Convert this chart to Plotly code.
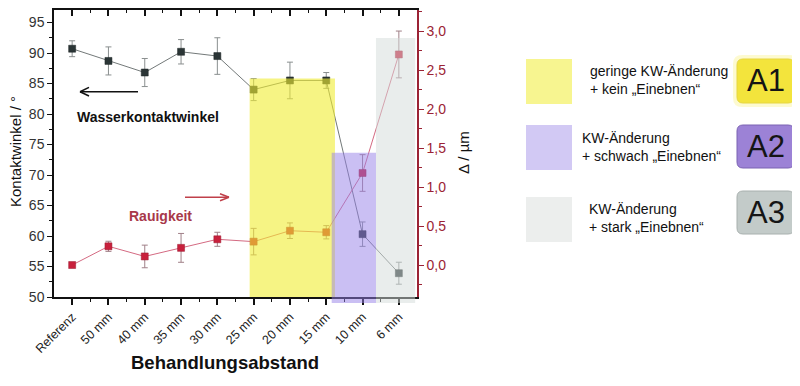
import plotly.graph_objects as go

categories = ["Referenz", "50 mm", "40 mm", "35 mm", "30 mm", "25 mm", "20 mm", "15 mm", "10 mm", "6 mm"]
kontaktwinkel = [90.7, 88.7, 86.8, 90.2, 89.5, 84.0, 85.5, 85.5, 60.3, 53.9]
kontaktwinkel_err = [1.3, 2.3, 2.3, 2.0, 3.0, 1.8, 3.0, 1.3, 2.0, 1.8]
rauigkeit = [0.0, 0.24, 0.11, 0.22, 0.33, 0.30, 0.44, 0.42, 1.18, 2.70]
rauigkeit_err = [0.01, 0.065, 0.145, 0.185, 0.09, 0.17, 0.10, 0.085, 0.235, 0.30]
left_ticks = [50, 55, 60, 65, 70, 75, 80, 85, 90, 95]
right_ticks = [0.0, 0.5, 1.0, 1.5, 2.0, 2.5, 3.0]

OFF = 8  # page body margin compensation
W, H = 800 - OFF, 386 - OFF
L, R, T, B = 54, 417, 10, 297  # reference pixel coordinates of plot area
FONT = "Liberation Sans, Arial, sans-serif"
DARKRED = "#9b2335"

def px(x):
    return (x - L) / (R - L)

def py(y):
    return (B - y) / (B - T)

idx = list(range(len(categories)))

fig = go.Figure()

fig.add_trace(go.Scatter(
    x=idx, y=kontaktwinkel, mode="lines+markers",
    line=dict(color="#737979", width=1),
    marker=dict(symbol="square", size=7, color="#2b3536", line=dict(color="#1c2424", width=0.5)),
    error_y=dict(type="data", array=kontaktwinkel_err, color="#8a8f8f", thickness=1, width=3),
    showlegend=False, yaxis="y"))

fig.add_trace(go.Scatter(
    x=idx, y=rauigkeit, mode="lines+markers",
    line=dict(color="#d46a82", width=1),
    marker=dict(symbol="square", size=7, color="#c8203c", line=dict(color="#9a1a30", width=0.5)),
    error_y=dict(type="data", array=rauigkeit_err, color="#a08088", thickness=1, width=3),
    showlegend=False, yaxis="y2"))

fig.add_trace(go.Scatter(x=[0], y=[60], mode="markers", marker=dict(opacity=0),
                         xaxis="x2", yaxis="y", showlegend=False, hoverinfo="skip"))

shapes = []
shapes.append(dict(type="rect", xref="x", yref="y", x0=4.89, x1=7.24, y0=50, y1=85.8,
                   fillcolor="rgba(240,236,50,0.6)", line=dict(width=0), layer="above"))
shapes.append(dict(type="rect", xref="x", yref="paper", x0=7.15, x1=8.37, y0=py(303), y1=py(152.7),
                   fillcolor="rgba(150,128,232,0.5)", line=dict(width=0), layer="above"))
shapes.append(dict(type="rect", xref="x", yref="paper", x0=8.37, x1=9.45, y0=py(303), y1=py(38),
                   fillcolor="rgba(212,220,218,0.5)", line=dict(width=0), layer="above"))

for (y0, y1, col) in [(59, 104, "#f7f590"), (125, 170, "#d2c9f4"), (197, 242, "#eceeed")]:
    shapes.append(dict(type="rect", xref="paper", yref="paper", x0=px(526), x1=px(572),
                       y0=py(y1), y1=py(y0), fillcolor=col, line=dict(width=0), layer="above"))

def rounded(x0, x1, y0, y1, r=6):
    X0, X1 = px(x0), px(x1)
    Y0, Y1 = py(y0), py(y1)
    rx = r / (R - L)
    ry = r / (B - T)
    return (f"M {X0+rx},{Y0} L {X1-rx},{Y0} Q {X1},{Y0} {X1},{Y0-ry} "
            f"L {X1},{Y1+ry} Q {X1},{Y1} {X1-rx},{Y1} "
            f"L {X0+rx},{Y1} Q {X0},{Y1} {X0},{Y1+ry} "
            f"L {X0},{Y0-ry} Q {X0},{Y0} {X0+rx},{Y0} Z")

shapes.append(dict(type="path", xref="paper", yref="paper", path=rounded(733, 798, 55, 107, 9),
                   fillcolor="rgba(250,240,120,0.35)", line=dict(width=0), layer="above"))
for (y0, y1, col, lc) in [(59, 103, "#f3e43c", "#e6d640"), (125, 168, "#9c82d6", "#7b62b2"),
                          (191, 234, "#c3cbc9", "#a8b0ae")]:
    shapes.append(dict(type="path", xref="paper", yref="paper", path=rounded(737, 794, y0, y1, 6),
                       fillcolor=col, line=dict(color=lc, width=1), layer="above"))

# Arrows (open chevron heads) as line shapes
def arrow(x_head, x_tail, y, dx, dy, color):
    out = [dict(type="line", xref="paper", yref="paper", x0=px(x_tail), x1=px(x_head),
                y0=py(y), y1=py(y), line=dict(color=color, width=1.5), layer="above")]
    for s in (-1, 1):
        out.append(dict(type="line", xref="paper", yref="paper", x0=px(x_head), x1=px(x_head + dx),
                        y0=py(y), y1=py(y + s * dy), line=dict(color=color, width=1.5), layer="above"))
    return out

shapes += arrow(80, 138, 91.7, 9, 4.3, "#111")
shapes += arrow(229, 185, 197.3, -9, 3.5, "#c0404a")

annotations = []
for (lab, y) in [("A1", 81), ("A2", 146.5), ("A3", 212.5)]:
    annotations.append(dict(text=lab, x=px(765.5), y=py(y), xref="paper", yref="paper",
                            showarrow=False, font=dict(family=FONT, size=31, color="#151515"),
                            xanchor="center", yanchor="middle"))

legend_texts = [
    ("geringe KW-Änderung<br>+ kein „Einebnen“", 588, 80),
    ("KW-Änderung<br>+ schwach „Einebnen“", 580, 147),
    ("KW-Änderung<br>+ stark „Einebnen“", 587, 218),
]
for (t, x, y) in legend_texts:
    annotations.append(dict(text=t, x=px(x), y=py(y), xref="paper", yref="paper", showarrow=False,
                            align="left", xanchor="left", yanchor="middle",
                            font=dict(family=FONT, size=14, color="#111")))

annotations.append(dict(text="<b>Wasserkontaktwinkel</b>", x=px(75), y=py(117), xref="paper", yref="paper",
                        showarrow=False, xanchor="left", yanchor="middle",
                        font=dict(family=FONT, size=14, color="#111")))
annotations.append(dict(text="<b>Rauigkeit</b>", x=px(127), y=py(216), xref="paper", yref="paper",
                        showarrow=False, xanchor="left", yanchor="middle",
                        font=dict(family=FONT, size=14, color="#a8384a")))
annotations.append(dict(text="<b>Behandlungsabstand</b>", x=px(225), y=py(363), xref="paper", yref="paper",
                        showarrow=False, xanchor="center", yanchor="middle",
                        font=dict(family=FONT, size=18.5, color="#111")))
annotations.append(dict(text="Kontaktwinkel / °", x=px(15), y=py(152), xref="paper", yref="paper",
                        showarrow=False, textangle=-90, xanchor="center", yanchor="middle",
                        font=dict(family=FONT, size=15, color="#111")))
annotations.append(dict(text="Δ / µm", x=px(463), y=py(153), xref="paper", yref="paper",
                        showarrow=False, textangle=-90, xanchor="center", yanchor="middle",
                        font=dict(family=FONT, size=15, color="#111")))

fig.update_layout(
    width=W, height=H,
    margin=dict(l=L - OFF, r=800 - R, t=T - OFF, b=386 - B, pad=0),
    paper_bgcolor="white", plot_bgcolor="white",
    separators=",.",
    font=dict(family=FONT, size=12, color="#222"),
    shapes=shapes, annotations=annotations,
    xaxis=dict(range=[-0.5, 9.5], tickmode="array", tickvals=idx, ticktext=categories,
               tickangle=-45, tickfont=dict(family=FONT, size=12.5, color="#222"),
               showgrid=False, zeroline=False, showline=True, linecolor="#111", linewidth=1.5,
               ticks="outside", ticklen=6, tickwidth=1.5, tickcolor="#111",
               minor=dict(tickmode="array", tickvals=[i + 0.5 for i in idx[:-1]], ticks="outside",
                          ticklen=3, tickwidth=1, tickcolor="#111")),
    xaxis2=dict(range=[-0.5, 9.5], overlaying="x", side="top", tickmode="array", tickvals=idx,
                showticklabels=False, showgrid=False, zeroline=False, showline=True,
                linecolor="#111", linewidth=1.5, ticks="inside", ticklen=6, tickwidth=1.5,
                tickcolor="#111",
                minor=dict(tickmode="array", tickvals=[i + 0.5 for i in idx[:-1]], ticks="inside",
                           ticklen=3, tickwidth=1, tickcolor="#111")),
    yaxis=dict(range=[50, 97.05], tickmode="array", tickvals=left_ticks,
               tickfont=dict(family=FONT, size=14, color="#333"),
               showgrid=False, zeroline=False, showline=True, linecolor="#111", linewidth=1.5,
               ticks="outside", ticklen=5, tickwidth=1.2, tickcolor="#111",
               minor=dict(dtick=2.5, tick0=50, ticks="outside", ticklen=3, tickwidth=1, tickcolor="#111")),
    yaxis2=dict(range=[-0.41, 3.27], overlaying="y", side="right", tickmode="array",
                tickvals=right_ticks, tickformat=".1f",
                tickfont=dict(family=FONT, size=14, color=DARKRED),
                showgrid=False, zeroline=False, showline=True, linecolor=DARKRED, linewidth=1.5,
                ticks="outside", ticklen=5, tickwidth=1.2, tickcolor=DARKRED,
                minor=dict(dtick=0.25, tick0=0, ticks="outside", ticklen=3, tickwidth=1, tickcolor=DARKRED)),
)

fig.write_html("out.html")
